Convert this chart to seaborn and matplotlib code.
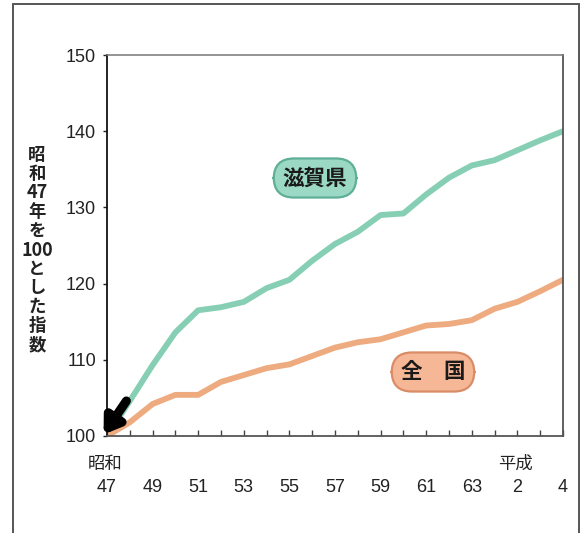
import matplotlib
matplotlib.use("Agg")
import matplotlib.pyplot as plt
from matplotlib.lines import Line2D
from matplotlib.ticker import MultipleLocator, FixedLocator, FixedFormatter
import seaborn as sns
import pandas as pd

# Population index, Showa 47 (1972) = 100
years = list(range(1972, 1993))
shiga = [100.0, 104.6, 109.3, 113.6, 116.5, 116.9, 117.6, 119.4, 120.5, 123.0,
         125.2, 126.8, 129.0, 129.2, 131.7, 133.9, 135.5, 136.2, 137.5, 138.8, 140.0]
national = [100.0, 101.8, 104.2, 105.4, 105.4, 107.1, 108.0, 108.9, 109.4, 110.5,
            111.6, 112.3, 112.7, 113.6, 114.5, 114.7, 115.2, 116.7, 117.6, 119.0, 120.5]
series_names = ["滋賀県", "全　国"]
tick_years = [1972, 1974, 1976, 1978, 1980, 1982, 1984, 1986, 1988, 1990, 1992]
tick_labels = ["47", "49", "51", "53", "55", "57", "59", "61", "63", "2", "4"]
y_ticks = [100, 110, 120, 130, 140, 150]
ylabel_rows = ["昭", "和", "47", "年", "を", "100", "と", "し", "た", "指", "数"]

line_colors = {"滋賀県": "#86cfb4", "全　国": "#eeab80"}
box_colors = {"滋賀県": ("#9bd9c5", "#5fae96"), "全　国": ("#f5b795", "#d98c66")}

df = pd.DataFrame({
    "year": years * 2,
    "index": shiga + national,
    "region": [series_names[0]] * len(years) + [series_names[1]] * len(years),
})

sns.set_theme(style="white")
plt.rcParams["font.family"] = ["Liberation Sans Narrow", "Liberation Sans", "DejaVu Sans"]
JP = ["Noto Sans CJK JP", "DejaVu Sans"]

W, H = 582, 533
fig = plt.figure(figsize=(W / 100, H / 100), dpi=100)
fig.patch.set_facecolor("white")
ax = fig.add_axes([107 / W, 1 - 436 / H, (563 - 107) / W, (436 - 55) / H])

sns.lineplot(data=df, x="year", y="index", hue="region", palette=line_colors,
             linewidth=4.2, legend=False, ax=ax, solid_capstyle="round")

ax.set_xlim(1972, 1992)
ax.set_ylim(100, 150)
ax.set_xlabel("")
ax.set_ylabel("")

# x axis: a tick every year, numbers every other year
ax.xaxis.set_major_locator(FixedLocator(tick_years))
ax.xaxis.set_major_formatter(FixedFormatter(tick_labels))
ax.xaxis.set_minor_locator(MultipleLocator(1))
ax.tick_params(axis="x", which="both", direction="in", length=4, width=1,
               color="#444444", pad=31, labelsize=13, labelcolor="#222222")
ax.yaxis.set_major_locator(FixedLocator(y_ticks))
ax.tick_params(axis="y", which="major", direction="out", length=3, width=1,
               color="#222222", pad=5, labelsize=13, labelcolor="#222222")
ax.tick_params(left=True, bottom=True, which="both")

for side, col, lw in [("left", "#111111", 1.3), ("bottom", "#555555", 1.3),
                      ("top", "#777777", 1.1), ("right", "#555555", 1.3)]:
    ax.spines[side].set_visible(True)
    ax.spines[side].set_color(col)
    ax.spines[side].set_linewidth(lw)

# era names above the first Showa year and the Heisei years
def fig_text(x, y, s, **kw):
    fig.text(x / W, 1 - y / H, s, transform=fig.transFigure, **kw)

fig_text(105, 464, "昭和", family=JP, fontsize=12.5, ha="center", va="center", color="#222222")
fig_text(515, 464, "平成", family=JP, fontsize=12.5, ha="center", va="center", color="#222222")

# vertical axis caption, one row per character group
for i, row in enumerate(ylabel_rows):
    is_digits = row.isdigit()
    fig_text(37, 155 + i * 19.0, row,
             family=(["Liberation Sans Narrow"] + JP) if is_digits else JP,
             fontsize=13 if is_digits else 12.5,
             fontweight="bold", ha="center", va="center", color="#222222")

# series labels in rounded boxes
for name, (cx, cy) in zip(series_names, [(315, 178), (433, 372)]):
    fc, ec = box_colors[name]
    fig_text(cx, cy, name, family=JP, fontsize=15.5, fontweight="bold",
             ha="center", va="center", color="#1a1a1a",
             bbox=dict(boxstyle="round,pad=0.42,rounding_size=0.95",
                       facecolor=fc, edgecolor=ec, linewidth=1.6))

# black arrow pointing to the common base point
ax.annotate("", xy=(1971.85, 100.2), xytext=(1972.85, 104.6),
            arrowprops=dict(arrowstyle="-|>,head_length=0.75,head_width=0.5",
                            color="black", lw=6.5, shrinkA=0, shrinkB=0),
            annotation_clip=False)

# outer frame
frame_kw = dict(color="#555555", linewidth=1.4, transform=fig.transFigure)
fig.add_artist(Line2D([13 / W, 13 / W], [0, 1 - 4 / H], **frame_kw))
fig.add_artist(Line2D([13 / W, 579 / W], [1 - 4 / H, 1 - 4 / H], **frame_kw))
fig.add_artist(Line2D([579 / W, 579 / W], [0, 1 - 4 / H], **frame_kw))

fig.savefig("out.png", dpi=100, facecolor="white")
